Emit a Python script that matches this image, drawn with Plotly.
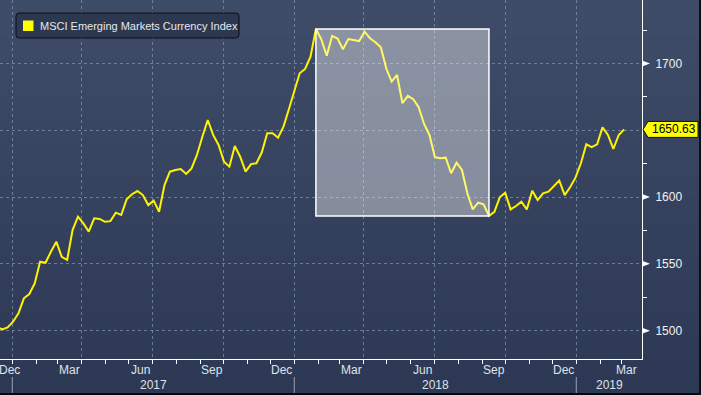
import pandas as pd
import plotly.graph_objects as go

# ---------------- data ----------------
series_name = "MSCI Emerging Markets Currency Index"
start_date = "2016-12-12"          # first weekly observation
values = [
    1502.9, 1501.0, 1502.5, 1506.7, 1513.0, 1524.2, 1527.4, 1535.4, 1551.6, 1550.8,
    1559.1, 1566.6, 1555.3, 1552.9, 1575.3, 1585.3, 1580.3, 1574.1, 1584.1, 1583.6,
    1581.5, 1582.0, 1588.3, 1586.6, 1598.3, 1602.1, 1604.5, 1601.5, 1594.0, 1597.3,
    1589.0, 1609.0, 1619.0, 1620.3, 1621.0, 1617.3, 1621.5, 1631.5, 1645.2, 1657.7,
    1646.5, 1639.0, 1626.5, 1622.7, 1638.2, 1630.2, 1619.0, 1624.7, 1625.3, 1633.5,
    1647.7, 1647.7, 1644.4, 1652.7, 1665.7, 1678.9, 1692.7, 1695.9, 1705.1, 1725.8,
    1718.1, 1705.8, 1720.6, 1718.6, 1710.6, 1718.3, 1717.6, 1716.8, 1723.8, 1718.9,
    1715.9, 1712.1, 1696.4, 1686.4, 1691.4, 1670.2, 1675.7, 1673.2, 1667.2, 1654.7,
    1646.5, 1629.8, 1629.0, 1629.5, 1617.8, 1625.7, 1620.3, 1602.8, 1590.8, 1595.8,
    1594.6, 1585.8, 1589.0, 1599.8, 1603.3, 1590.8, 1593.3, 1596.5, 1590.8, 1604.8,
    1597.8, 1602.8, 1604.0, 1607.8, 1612.3, 1601.5, 1607.3, 1614.5, 1625.3, 1639.5,
    1637.3, 1639.5, 1652.2, 1646.5, 1636.0, 1646.5, 1650.63,
]
y_tick_values = [1500, 1550, 1600, 1650, 1700]
y_tick_labels = ["1500", "1550", "1600", "", "1700"]
y_minor_ticks = [1525, 1575, 1625, 1675, 1725]
month_labels = ["Dec", "Mar", "Jun", "Sep", "Dec", "Mar", "Jun", "Sep", "Dec", "Mar"]
month_label_dates = ["2016-12-16", "2017-03-16", "2017-06-16", "2017-09-16", "2017-12-16",
                     "2018-03-16", "2018-06-16", "2018-09-16", "2018-12-16", "2019-03-16"]
year_labels = ["2017", "2018", "2019"]
x_range = ["2016-12-16 02:00", "2019-03-27 02:00"]
y_range = [1478.8, 1747.5]

# ---------------- derived ----------------
dates = pd.date_range(start_date, periods=len(values), freq="7D")
peak_i = max(range(len(values)), key=lambda i: values[i])
trough_i = min(range(peak_i, len(values)), key=lambda i: values[i])
quarter_starts = pd.date_range("2017-01-01", "2019-01-01", freq="QS")
month_starts = pd.date_range("2016-12-01", "2019-03-01", freq="MS")

FONT = "Liberation Sans, Arial, sans-serif"
LINE = "#fff200"
GRID = "rgba(125,145,175,0.75)"
PLOT_H = 359
PLOT_W = 642
W, H = 701, 395

fig = go.Figure()
fig.add_trace(go.Scatter(
    x=dates, y=values, mode="lines", name=series_name,
    line=dict(color=LINE, width=2), showlegend=False, hoverinfo="x+y",
))

shapes = []
# background vertical gradient over whole figure
top = (63, 76, 103)
bot = (45, 57, 84)
n = 40
y_bottom = -(H - PLOT_H) / PLOT_H
for k in range(n):
    t = k / (n - 1)
    c = tuple(round(top[j] + (bot[j] - top[j]) * t) for j in range(3))
    ya = 1 - (1 - y_bottom) * k / n
    yb = 1 - (1 - y_bottom) * (k + 1) / n
    shapes.append(dict(type="rect", xref="paper", yref="paper", x0=-0.01, x1=W / PLOT_W + 0.01,
                       y0=yb - 0.001, y1=ya + 0.001, fillcolor="rgb(%d,%d,%d)" % c,
                       line=dict(width=0), layer="below"))
# dark frame edges
shapes.append(dict(type="rect", xref="paper", yref="paper", x0=-0.01, x1=W / PLOT_W + 0.01,
                   y0=y_bottom - 0.01, y1=-(H - 2 - PLOT_H) / PLOT_H, fillcolor="#05070c",
                   line=dict(width=0), layer="below"))
shapes.append(dict(type="rect", xref="paper", yref="paper", x0=(W - 2) / PLOT_W, x1=W / PLOT_W + 0.01,
                   y0=y_bottom - 0.01, y1=1.01, fillcolor="#0b0f18",
                   line=dict(width=0), layer="below"))

# highlighted decline box (peak -> trough)
shapes.append(dict(type="rect", xref="x", yref="y",
                   x0=dates[peak_i], x1=dates[trough_i],
                   y0=values[trough_i], y1=values[peak_i],
                   fillcolor="rgba(255,255,255,0.40)",
                   line=dict(color="white", width=1.5), layer="above"))

# year separators below the axis
for yl in year_labels:
    d = pd.Timestamp(yl + "-01-01")
    if pd.Timestamp(x_range[0]) <= d <= pd.Timestamp(x_range[1]):
        shapes.append(dict(type="line", xref="x", yref="paper", x0=d, x1=d,
                           y0=-(377 - PLOT_H) / PLOT_H, y1=-(393 - PLOT_H) / PLOT_H,
                           line=dict(color="#9aa3b3", width=1)))

# right-axis triangles at labelled ticks
for v, lab in zip(y_tick_values, y_tick_labels):
    if lab:
        shapes.append(dict(type="path", xref="paper", yref="y", xsizemode="pixel", ysizemode="pixel",
                           xanchor=1, yanchor=v, path="M 0 3 L 8 0 L 0 -3 Z",
                           fillcolor="white", line=dict(width=0)))

# last value tag
last_v = values[-1]
shapes.append(dict(type="path", xref="paper", yref="y", xsizemode="pixel", ysizemode="pixel",
                   xanchor=1, yanchor=last_v,
                   path="M 1 0 L 6 8 L 56 8 L 56 -8 L 6 -8 Z",
                   fillcolor="#ffff00", line=dict(color="#111111", width=1)))

# legend box
shapes.append(dict(type="path", xref="paper", yref="paper", xsizemode="pixel", ysizemode="pixel",
                   xanchor=0, yanchor=1,
                   path="M 19 -13 L 236 -13 Q 239 -13 239 -16 L 239 -35 Q 239 -38 236 -38 "
                        "L 19 -38 Q 16 -38 16 -35 L 16 -16 Q 16 -13 19 -13 Z",
                   fillcolor="#2c3750", line=dict(color="#0c0f16", width=1)))
shapes.append(dict(type="path", xref="paper", yref="paper", xsizemode="pixel", ysizemode="pixel",
                   xanchor=0, yanchor=1,
                   path="M 23 -20.5 L 33.5 -20.5 L 33.5 -31 L 23 -31 Z",
                   fillcolor="#ffff00", line=dict(width=0)))

annotations = []
annotations.append(dict(xref="paper", yref="paper", x=38 / PLOT_W, y=1 - 25.5 / PLOT_H,
                        xanchor="left", yanchor="middle", showarrow=False, text=series_name,
                        font=dict(family=FONT, size=11, color="#e6e8ee")))
annotations.append(dict(xref="paper", yref="y", x=1, y=last_v, xanchor="left", yanchor="middle",
                        xshift=8, showarrow=False, text=f"{last_v:.2f}",
                        font=dict(family=FONT, size=12, color="#000000")))

x0r, x1r = pd.Timestamp(x_range[0]), pd.Timestamp(x_range[1])
for lab, d in zip(month_labels, month_label_dates):
    d = pd.Timestamp(d)
    ann = dict(xref="x", yref="paper", x=d, y=-(370 - PLOT_H) / PLOT_H, yanchor="middle",
               xanchor="center", showarrow=False, text=lab,
               font=dict(family=FONT, size=12, color="#dfe3ea"))
    if (d - x0r).days < 8:
        ann.update(x=x0r, xanchor="left", xshift=-3)
    elif (x1r - d).days < 14:
        ann.update(x=x1r, xanchor="right", xshift=-3)
    annotations.append(ann)
for yl in year_labels:
    a = max(pd.Timestamp(yl + "-01-01"), x0r)
    b = min(pd.Timestamp(str(int(yl) + 1) + "-01-01"), x1r)
    annotations.append(dict(xref="x", yref="paper", x=a + (b - a) / 2, y=-(385 - PLOT_H) / PLOT_H,
                            xanchor="center", yanchor="middle", showarrow=False, text=yl,
                            font=dict(family=FONT, size=12, color="#dfe3ea")))

fig.update_layout(
    width=W, height=H,
    margin=dict(l=0, r=W - PLOT_W, t=0, b=H - PLOT_H, pad=0),
    paper_bgcolor="rgb(45,57,84)", plot_bgcolor="rgba(0,0,0,0)",
    showlegend=False, shapes=shapes, annotations=annotations,
    font=dict(family=FONT, size=12, color="#eeeeee"),
    xaxis=dict(
        type="date", range=x_range, showline=True, linecolor="white", linewidth=1,
        tickmode="array", tickvals=list(quarter_starts), showticklabels=False,
        ticks="outside", ticklen=4, tickcolor="white", tickwidth=1,
        showgrid=True, gridcolor=GRID, griddash="dot", gridwidth=1, zeroline=False,
        minor=dict(tickmode="array", tickvals=list(month_starts), ticks="outside",
                   ticklen=4, tickcolor="white", showgrid=False),
    ),
    yaxis=dict(
        side="right", range=y_range, showline=True, linecolor="white", linewidth=1,
        tickmode="array", tickvals=y_tick_values, ticktext=y_tick_labels,
        ticks="", ticklabelstandoff=10,
        tickfont=dict(family=FONT, size=12, color="#f2f2f2"),
        showgrid=True, gridcolor=GRID, griddash="dot", gridwidth=1, zeroline=False,
        minor=dict(tickmode="array", tickvals=y_minor_ticks, ticks="outside",
                   ticklen=4, tickcolor="white", showgrid=False),
    ),
)

fig.write_html("out.html", config={"displayModeBar": False},
               post_script="document.body.style.margin='0';document.body.style.overflow='hidden';")
